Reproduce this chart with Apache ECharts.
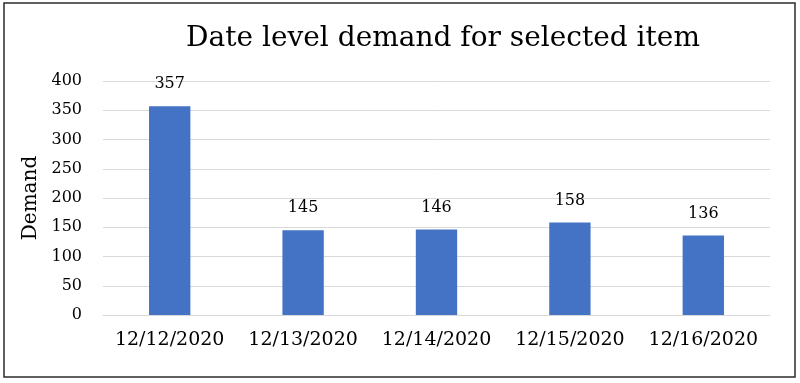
<!DOCTYPE html>
<html>
<head>
<meta charset="utf-8">
<script src="https://cdn.jsdelivr.net/npm/echarts@6/dist/echarts.min.js"></script>
<style>
html,body{margin:0;padding:0;background:#fff;}
#chart{width:800px;height:383px;}
</style>
</head>
<body>
<div id="chart"></div>
<script>
const categories = ['12/12/2020', '12/13/2020', '12/14/2020', '12/15/2020', '12/16/2020'];
const demand = [357, 145, 146, 158, 136];
const titleText = 'Date level demand for selected item';
const yAxisName = 'Demand';

const FONT = '"DejaVu Serif", "Liberation Serif", serif';
const chart = echarts.init(document.getElementById('chart'));
chart.setOption({
  backgroundColor: '#ffffff',
  animation: false,
  title: {
    text: titleText,
    left: 438,
    top: 20,
    textAlign: 'center',
    textStyle: { fontFamily: FONT, fontSize: 28, fontWeight: 'normal', color: '#000' }
  },
  grid: { left: 103, right: 30, top: 81, bottom: 68, containLabel: false },
  xAxis: {
    type: 'category',
    data: categories,
    axisLine: { show: true, lineStyle: { color: '#D9D9D9', width: 1 } },
    axisTick: { show: false },
    axisLabel: { interval: 0, hideOverlap: false, fontFamily: FONT, fontSize: 19, color: '#000', margin: 16 }
  },
  yAxis: {
    type: 'value',
    min: 0, max: 400, interval: 50,
    name: yAxisName,
    nameLocation: 'middle',
    nameGap: 61,
    nameTextStyle: { fontFamily: FONT, fontSize: 20, color: '#000' },
    axisLine: { show: false },
    axisTick: { show: false },
    splitLine: { lineStyle: { color: '#D9D9D9', width: 1 } },
    axisLabel: { fontFamily: FONT, fontSize: 16, color: '#000', margin: 21 }
  },
  series: [{
    type: 'bar',
    data: demand,
    barWidth: '31%',
    itemStyle: { color: '#4472C4' },
    label: {
      show: true, position: 'top', distance: 14,
      fontFamily: FONT, fontSize: 16, color: '#000'
    }
  }],
  graphic: [{
    type: 'rect',
    shape: { x: 4, y: 3, width: 791, height: 374 },
    style: { fill: 'none', stroke: '#2b2b2b', lineWidth: 1.5 },
    silent: true
  }]
});
</script>
</body>
</html>
